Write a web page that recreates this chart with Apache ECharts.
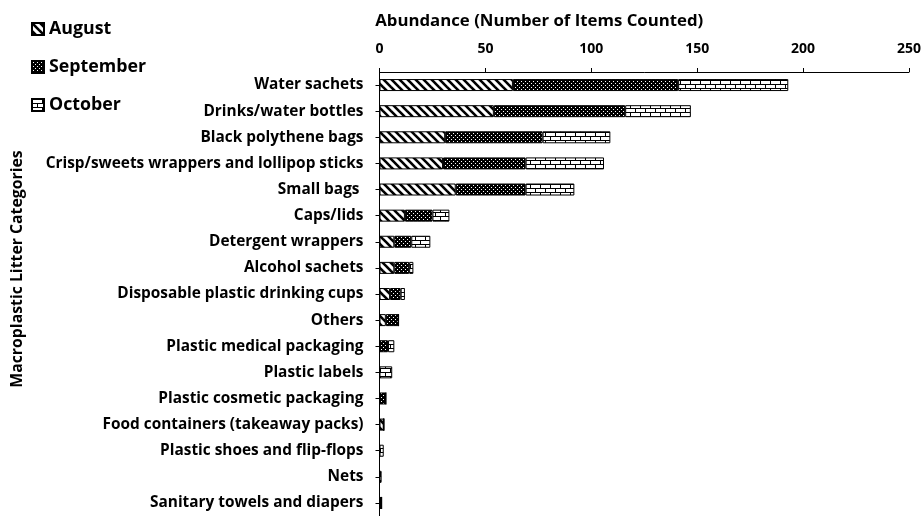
<!DOCTYPE html>
<html>
<head>
<meta charset="utf-8">
<script src="https://cdn.jsdelivr.net/npm/echarts@6/dist/echarts.min.js"></script>
<style>
  html, body { margin: 0; padding: 0; background: #fff; }
  #chart { width: 924px; height: 516px; }
</style>
</head>
<body>
<div id="chart"></div>
<script>
// categories top to bottom
const categories = [
    'Water sachets', 'Drinks/water bottles', 'Black polythene bags',
    'Crisp/sweets wrappers and lollipop sticks', 'Small bags ', 'Caps/lids',
    'Detergent wrappers', 'Alcohol sachets', 'Disposable plastic drinking cups',
    'Others', 'Plastic medical packaging', 'Plastic labels',
    'Plastic cosmetic packaging', 'Food containers (takeaway packs)',
    'Plastic shoes and flip-flops', 'Nets', 'Sanitary towels and diapers'
];
const august = [63, 54, 31, 30, 36, 12, 7, 7, 5, 3, 0, 0, 0, 2, 0, 0, 0];
const september = [78, 62, 46, 39, 33, 13, 8, 7, 5, 6, 4, 0, 3, 0, 0, 0, 1];
const october = [52, 31, 32, 37, 23, 8, 9, 2, 2, 0, 3, 6, 0, 0, 2, 1, 0];
const xTicks = [0, 50, 100, 150, 200, 250];

const FONT = 'Open Sans';

// pattern fills
function makeTile(w, h, draw) {
    const c = document.createElement('canvas');
    c.width = w; c.height = h;
    draw(c.getContext('2d'));
    return { image: c, repeat: 'repeat' };
}
const hatch = makeTile(8, 8, (ctx) => {
    ctx.fillStyle = '#fff';
    ctx.fillRect(0, 0, 8, 8);
    ctx.strokeStyle = '#000';
    ctx.lineWidth = 2.6;
    for (let x = -8; x <= 8; x += 8) {
        ctx.beginPath();
        ctx.moveTo(x - 1, -1);
        ctx.lineTo(x + 9, 9);
        ctx.stroke();
    }
});
const dots = makeTile(4, 4, (ctx) => {
    ctx.fillStyle = '#000';
    ctx.fillRect(0, 0, 4, 4);
    ctx.fillStyle = '#fff';
    ctx.fillRect(1, 1, 1, 1);
    ctx.fillRect(3, 3, 1, 1);
});
const brick = makeTile(10, 8, (ctx) => {
    ctx.fillStyle = '#fff';
    ctx.fillRect(0, 0, 10, 8);
    ctx.fillStyle = '#000';
    ctx.fillRect(0, 0, 10, 1);
    ctx.fillRect(0, 4, 10, 1);
    ctx.fillRect(0, 0, 1, 4);
    ctx.fillRect(5, 4, 1, 4);
});

const chart = echarts.init(document.getElementById('chart'));

function barSeries(name, data, fill) {
    return {
        name: name,
        type: 'bar',
        stack: 'total',
        barWidth: 12,
        data: data,
        itemStyle: { color: fill, borderColor: '#000', borderWidth: 1 },
        emphasis: { disabled: true }
    };
}

chart.setOption({
    animation: false,
    textStyle: { fontFamily: FONT },
    legend: {
        orient: 'vertical',
        left: 26,
        top: 15,
        itemWidth: 12,
        itemHeight: 12,
        itemGap: 20,
        icon: 'rect',
        selectedMode: false,
        textStyle: { fontFamily: FONT, fontSize: 17.8, fontWeight: 'bold', color: '#000', lineHeight: 18 },
        data: ['August', 'September', 'October']
    },
    grid: { left: 379.5, right: 12.5, top: 72, height: 447 },
    xAxis: {
        type: 'value',
        position: 'top',
        min: xTicks[0],
        max: xTicks[xTicks.length - 1],
        interval: 50,
        name: 'Abundance (Number of Items Counted)',
        nameLocation: 'middle',
        nameGap: 42,
        nameTextStyle: { fontFamily: FONT, fontSize: 16.8, fontWeight: 'bold', color: '#000', padding: [0, 210, 0, 0] },
        axisLine: { show: true, lineStyle: { color: '#000', width: 1 } },
        axisTick: { show: true, length: 4, lineStyle: { color: '#000' } },
        axisLabel: { margin: 16, fontFamily: FONT, fontSize: 14, fontWeight: 'bold', color: '#000' },
        splitLine: { show: false }
    },
    yAxis: {
        type: 'category',
        inverse: true,
        data: categories,
        name: 'Macroplastic Litter Categories',
        nameLocation: 'middle',
        nameRotate: 90,
        nameGap: 354,
        nameTextStyle: { fontFamily: FONT, fontSize: 15.8, fontWeight: 'bold', color: '#000', padding: [0, 0, 0, 50] },
        axisLine: { show: true, lineStyle: { color: '#000', width: 1 } },
        axisTick: { show: true, length: 4, alignWithLabel: true, lineStyle: { color: '#000' } },
        axisLabel: { margin: 16, fontFamily: FONT, fontSize: 15.4, fontWeight: 'bold', color: '#000' }
    },
    series: [
        barSeries('August', august, hatch),
        barSeries('September', september, dots),
        barSeries('October', october, brick)
    ]
});
</script>
</body>
</html>
